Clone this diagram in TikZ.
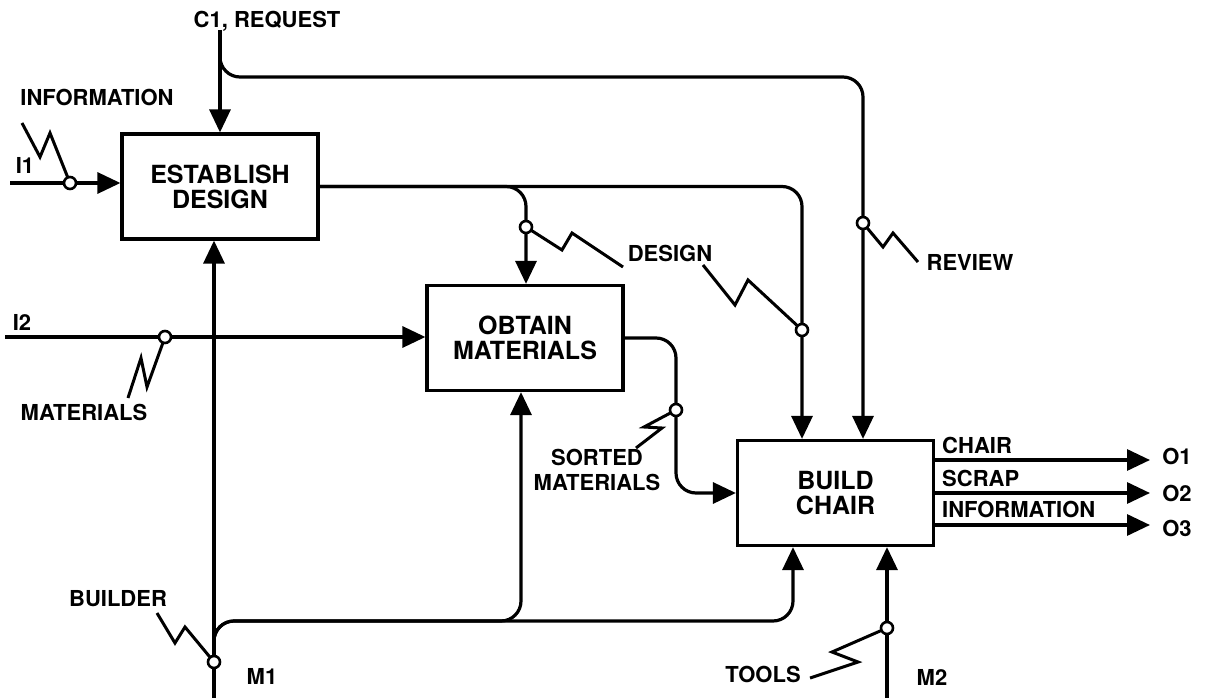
\documentclass[tikz,border=0pt]{standalone}
\usepackage{fontspec}
\setmainfont{TeX Gyre Heros}
\usetikzlibrary{arrows.meta}
\begin{document}
\begin{tikzpicture}[x=1pt,y=-1pt,>={Triangle[length=23pt,width=21pt]},
func/.style={rectangle,draw,line width=3.2pt,minimum width=196pt,minimum height=105pt,inner sep=0pt,align=center,font=\fontsize{25}{25}\selectfont\bfseries},
lbl/.style={inner sep=0pt,font=\fontsize{22}{25}\selectfont\bfseries},
joint/.style={circle,draw,fill=white,line width=2.6pt,inner sep=0pt,minimum size=12pt},
squig/.style={line width=3pt,line join=miter}]
\useasboundingbox (0,0) rectangle (1210,698);

\node[func](design) at (220,186.5){ESTABLISH\\DESIGN};
\node[func](obtain) at (525,338){OBTAIN\\MATERIALS};
\node[func](build) at (835.5,493){BUILD\\CHAIR};

\node[lbl](c1) at (267,21){C1, REQUEST};
\node[lbl](info) at (97,97){INFORMATION};
\node[lbl](i1) at (25,165){I1};
\node[lbl](i2) at (22,322){I2};
\node[lbl](mat) at (84,412){MATERIALS};
\node[lbl](design-lbl) at (670,253){DESIGN};
\node[lbl](review) at (970,262){REVIEW};
\node[lbl,align=center](sorted) at (597,470){SORTED\\MATERIALS};
\node[lbl](builder) at (118,599){BUILDER};
\node[lbl](m1) at (262,676){M1};
\node[lbl](tools) at (763,674){TOOLS};
\node[lbl](m2) at (932,677){M2};
\node[lbl,anchor=west](chair) at (942,445){CHAIR};
\node[lbl,anchor=west](scrap) at (942,478){SCRAP};
\node[lbl,anchor=west](info-out) at (942,509){INFORMATION};
\node[lbl](o1) at (1177,456){O1};
\node[lbl](o2) at (1177,493){O2};
\node[lbl](o3) at (1177,528){O3};

\coordinate(c1-in) at (220,30);
\coordinate(c1-split) at (220,50);
\coordinate(review-turn) at (863,77);
\coordinate(i1-in) at (10,183);
\coordinate(i2-in) at (5,337);
\coordinate(m1-in) at (214,698);
\coordinate(m1-split) at (214,645);
\coordinate(m1-mid) at (521,621);
\coordinate(m1-right) at (793,621);
\coordinate(m2-in) at (887,698);
\coordinate(o1-out) at (1150,460);
\coordinate(o2-out) at (1150,493);
\coordinate(o3-out) at (1150,525);
\coordinate(i1-j) at (70,183);
\coordinate(i2-j) at (165,337);
\coordinate(m1-j) at (214,662);
\coordinate(d1-j) at (526,227);
\coordinate(d2-j) at (802,330);
\coordinate(rev-j) at (863,223);
\coordinate(sort-j) at (676,410);
\coordinate(m2-j) at (887,628);

\begin{scope}[->,line width=3.2pt,rounded corners=20pt]
\draw (c1-in)--(design.north);
\draw (c1-split)|-(review-turn)--(build.north -| review-turn);
\draw (i1-in)--(design.west |- i1-in);
\draw (i2-in)--(obtain.west |- i2-in);
\draw (design.east)-|([xshift=1pt]obtain.north);
\draw (design.east)-|([xshift=-33.5pt]build.north);
\draw (obtain.east)-|(sort-j)|-(build.west);
\draw (m1-in)--(design.south -| m1-in);
\draw (m1-split)|-(m1-mid)--(obtain.south -| m1-mid);
\draw (m1-split)|-(m1-right)--(build.south -| m1-right);
\draw (m2-in)--(build.south -| m2-in);
\draw (build.east |- o1-out)--(o1-out);
\draw (build.east |- o2-out)--(o2-out);
\draw (build.east |- o3-out)--(o3-out);
\end{scope}

\draw[squig] (i1-j)--(50,133)--(40,157)--(22,123);
\draw[squig] (i2-j)--(147,387)--(141,358)--(128,398);
\draw[squig] (m1-j)--(185,627)--(175,643)--(157,613);
\draw[squig] (d1-j)--(562,250)--(572,233)--(623,267);
\draw[squig] (d2-j)--(748,280)--(735,305)--(703,265);
\draw[squig] (rev-j)--(883,247)--(893,233)--(918,262);
\draw[squig] (sort-j)--(644,427)--(662,428)--(636,448);
\draw[squig] (m2-j)--(832,652)--(858,662)--(810,678);

\foreach \j in {i1-j,i2-j,m1-j,d1-j,d2-j,rev-j,sort-j,m2-j}
  \node[joint] at (\j){};
\end{tikzpicture}
\end{document}
